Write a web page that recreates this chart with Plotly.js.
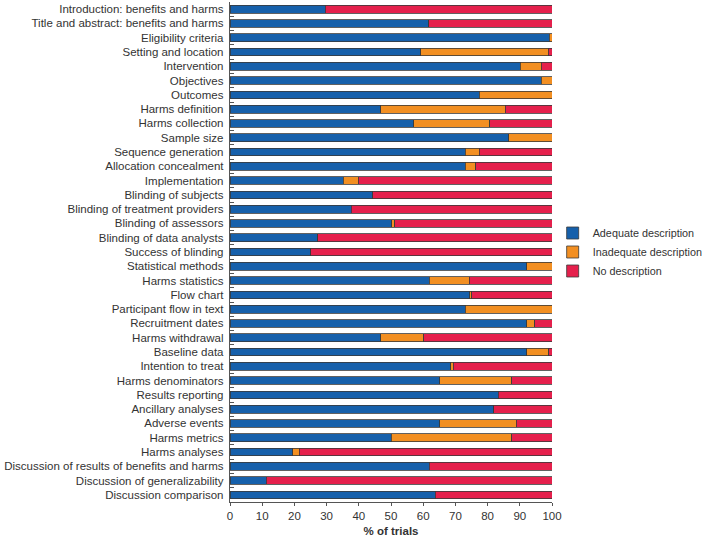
<!DOCTYPE html>
<html><head><meta charset="utf-8">
<script src="https://cdn.plot.ly/plotly-3.0.1.min.js"></script>
<style>body{margin:0;padding:0;background:#fff}#chart{width:709px;height:542px}</style>
</head><body><div id="chart"></div>
<script>
const categories = ["Introduction: benefits and harms","Title and abstract: benefits and harms","Eligibility criteria","Setting and location","Intervention","Objectives","Outcomes","Harms definition","Harms collection","Sample size","Sequence generation","Allocation concealment","Implementation","Blinding of subjects","Blinding of treatment providers","Blinding of assessors","Blinding of data analysts","Success of blinding","Statistical methods","Harms statistics","Flow chart","Participant flow in text","Recruitment dates","Harms withdrawal","Baseline data","Intention to treat","Harms denominators","Results reporting","Ancillary analyses","Adverse events","Harms metrics","Harms analyses","Discussion of results of benefits and harms","Discussion of generalizability","Discussion comparison"];
const adequate = [29.6,61.7,99.1,59.2,90.2,96.7,77.4,46.8,57.1,86.5,73.0,73.0,35.2,44.4,37.6,50.3,27.2,25.1,92.2,61.8,74.4,73.0,92.2,46.8,92.2,68.5,65.2,83.3,81.9,65.1,50.1,19.5,61.8,11.3,63.7];
const inadequate = [0,0,0.9,39.7,6.4,3.3,22.6,38.7,23.6,13.5,4.4,3.3,4.7,0,0,0.9,0,0,7.8,12.5,0.7,27.0,2.4,13.4,6.8,0.9,22.3,0,0,23.8,37.4,2.0,0,0,0];
const none = adequate.map((a,i)=>Math.max(0, +(100 - a - inadequate[i]).toFixed(1)));
const seriesNames = ["Adequate description","Inadequate description","No description"];
const colors = ["#1660ab","#f28f22","#e5204c"];
const vals = [adequate, inadequate, none];
const traces = vals.map((v,k)=>({
  type:'bar', orientation:'h', y:categories, x:v, name:seriesNames[k],
  marker:{color:colors[k], line:{color:'#3a3a3a', width:0.8}},
  hoverinfo:'x+y'
}));
const layout = {
  width:709, height:542, barmode:'stack', bargap:0.46,
  margin:{l:230, r:157, t:2, b:40},
  paper_bgcolor:'#fff', plot_bgcolor:'#fff',
  font:{family:'Liberation Sans, Arial, sans-serif', size:11, color:'#333'},
  xaxis:{range:[0,100], tickvals:[0,10,20,30,40,50,60,70,80,90,100], showgrid:false, zeroline:false,
    showline:true, linecolor:'#555', linewidth:1, ticks:'outside', ticklen:3, tickcolor:'#555', tickfont:{size:11.5, color:'#333'},
    title:{text:'<b>% of trials</b>', font:{size:11.5, color:'#333'}, standoff:6}},
  yaxis:{autorange:'reversed', showgrid:false, zeroline:false, showline:true, linecolor:'#555', linewidth:1,
    ticks:'inside', tickson:'boundaries', ticklen:4, tickcolor:'#555', tickfont:{size:11.5, color:'#333'}, ticksuffix:' '},
  legend:{xref:'container', x:0.7795, xanchor:'left', yref:'paper', y:0.5, yanchor:'middle', font:{size:10.8, color:'#333'}, traceorder:'normal', itemwidth:30, tracegroupgap:2, bgcolor:'rgba(0,0,0,0)'},
  showlegend:true
};
Plotly.newPlot('chart', traces, layout, {displayModeBar:false});
</script></body></html>
